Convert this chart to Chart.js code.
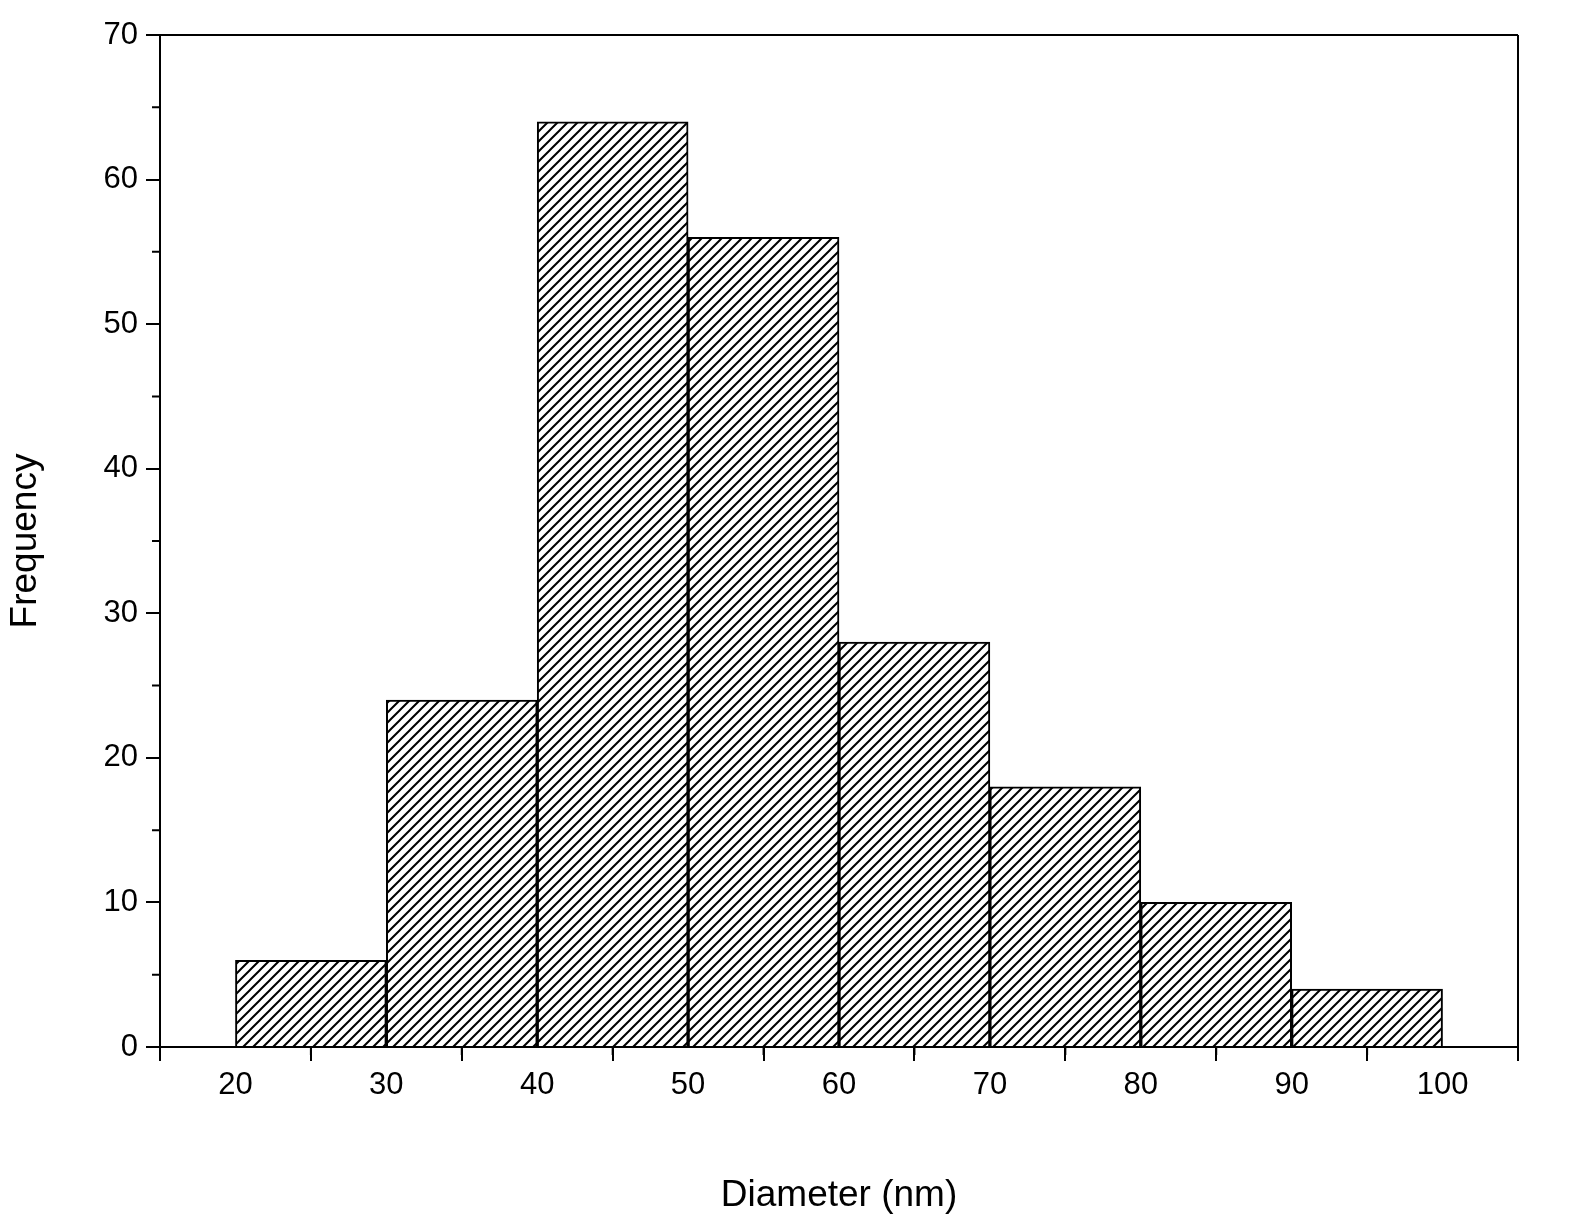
<!DOCTYPE html>
<html>
<head>
<meta charset="utf-8">
<script src="https://cdn.jsdelivr.net/npm/chart.js@4.4.0/dist/chart.umd.min.js"></script>
<style>
  html, body { margin: 0; padding: 0; background: #fff; }
</style>
</head>
<body>
<canvas id="histChart" width="1577" height="1222"></canvas>
<script>
// ===== Data =====
const binCenters = [25, 35, 45, 55, 65, 75, 85, 95];
const frequency = [6, 24, 64, 56, 28, 18, 10, 4];
const xTicks = [20, 30, 40, 50, 60, 70, 80, 90, 100];
const yTicks = [0, 10, 20, 30, 40, 50, 60, 70];

// ===== Hatch pattern =====
function makeHatch() {
    const size = 10;
    const c = document.createElement('canvas');
    c.width = size; c.height = size;
    const g = c.getContext('2d');
    g.fillStyle = '#fff';
    g.fillRect(0, 0, size, size);
    g.strokeStyle = '#000';
    g.lineWidth = 2;
    g.beginPath();
    g.moveTo(-2, size + 2); g.lineTo(size + 2, -2);
    g.moveTo(-2, 2); g.lineTo(2, -2);
    g.moveTo(size - 2, size + 2); g.lineTo(size + 2, size - 2);
    g.stroke();
    return g.createPattern(c, 'repeat');
}

// ===== Frame + minor ticks =====
const framePlugin = {
    id: 'frame',
    afterDraw(chart) {
        const { ctx, chartArea: a, scales: { x, y } } = chart;
        ctx.save();
        ctx.strokeStyle = '#000';
        ctx.lineWidth = 2;
        ctx.beginPath();
        ctx.moveTo(a.left, a.top); ctx.lineTo(a.right, a.top);
        ctx.moveTo(a.right, a.top); ctx.lineTo(a.right, a.bottom);
        for (let v = 25; v < 100; v += 10) {
            const px = x.getPixelForValue(v);
            ctx.moveTo(px, a.bottom); ctx.lineTo(px, a.bottom + 8);
        }
        for (let v = 5; v < 70; v += 10) {
            const py = y.getPixelForValue(v);
            ctx.moveTo(a.left, py); ctx.lineTo(a.left - 8, py);
        }
        ctx.stroke();
        ctx.restore();
    }
};

const font = { family: 'Liberation Sans, Arial, sans-serif', size: 31 };

new Chart(document.getElementById('histChart'), {
    type: 'bar',
    data: {
        datasets: [{
            data: binCenters.map((c, i) => ({ x: c, y: frequency[i] })),
            backgroundColor: makeHatch(),
            borderColor: '#000',
            borderWidth: 2,
            barPercentage: 1,
            categoryPercentage: 1
        }]
    },
    options: {
        responsive: false,
        animation: false,
        devicePixelRatio: 1,
        layout: { padding: { top: 35, right: 59, left: 0, bottom: 0 } },
        plugins: { legend: { display: false }, tooltip: { enabled: false } },
        scales: {
            x: {
                type: 'linear', min: 20, max: 100,
                afterBuildTicks: s => { s.ticks = xTicks.map(v => ({ value: v })); },
                afterFit: s => { s.height = 175; },
                grid: { drawOnChartArea: false, tickLength: 14, color: '#000', lineWidth: 2 },
                border: { display: true, color: '#000', width: 2 },
                ticks: { color: '#000', font, padding: 6, maxRotation: 0 },
                title: { display: true, text: 'Diameter (nm)', color: '#000',
                         font: { family: font.family, size: 37 }, padding: { top: 20 } }
            },
            y: {
                min: 0, max: 70,
                afterBuildTicks: s => { s.ticks = yTicks.map(v => ({ value: v })); },
                afterFit: s => { s.width = 160; },
                grid: { drawOnChartArea: false, tickLength: 14, color: '#000', lineWidth: 2 },
                border: { display: true, color: '#000', width: 2 },
                ticks: { color: '#000', font, padding: 8 },
                title: { display: true, text: 'Frequency', color: '#000',
                         font: { family: font.family, size: 37 }, padding: { bottom: 10 } }
            }
        }
    },
    plugins: [framePlugin]
});
</script>
</body>
</html>
